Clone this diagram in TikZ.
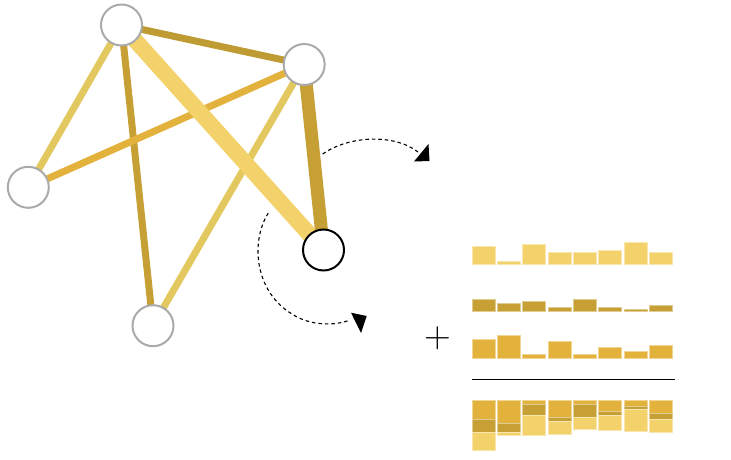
\documentclass[tikz,border=0pt]{standalone}
\usetikzlibrary{backgrounds}
\definecolor{lightY}{RGB}{243,210,108}
\definecolor{darkY}{RGB}{198,160,53}
\definecolor{orangeY}{RGB}{227,178,60}
\definecolor{mutedY}{RGB}{227,200,96}
\definecolor{oliveY}{RGB}{190,155,51}
\definecolor{vgray}{RGB}{170,170,170}
\begin{document}
\begin{tikzpicture}[x=1pt,y=-1pt,
  vert/.style={circle,fill=white,draw=vgray,line width=2pt,minimum size=41pt,inner sep=0pt},
  selvert/.style={vert,draw=black},
  edge/.style={line cap=butt},
  dasharc/.style={line width=1.1pt,dash pattern=on 3.5pt off 3pt},
  head/.style={fill=black,draw=none},
  bar/.style={line width=0.6pt}]
\useasboundingbox (0,0) rectangle (731,460);
% vertices
\node[vert] (A) at (121.5,25) {};
\node[vert] (B) at (304.2,64.5) {};
\node[vert] (C) at (28.3,187.3) {};
\node[vert] (D) at (153,325.7) {};
\node[selvert] (E) at (323.5,250) {};
% edges
\begin{scope}[on background layer]
\draw[edge,oliveY,line width=7pt] (A.center) -- (B.center);
\draw[edge,mutedY,line width=7pt] (A.center) -- (C.center);
\draw[edge,darkY,line width=7pt] (A.center) -- (D.center);
\draw[edge,orangeY,line width=7pt] (B.center) -- (C.center);
\draw[edge,mutedY,line width=7pt] (B.center) -- (D.center);
\draw[edge,lightY,line width=16pt] (A.center) -- (E.center);
\draw[edge,darkY,line width=13pt] (B.center) -- (E.center);
\end{scope}
% rotation arrows
\coordinate (u0) at (322.7,154);
\coordinate (u1) at (418,152);
\draw[dasharc] (u0) .. controls (350,135) and (395,134) .. (u1);
\fill[head] (428.5,144) -- (414,161.5) -- (429.5,161) -- cycle;
\coordinate (l0) at (268.3,213);
\coordinate (lm) at (292,314);
\coordinate (l1) at (350,320);
\draw[dasharc] (l0) .. controls (250,242) and (255,292) .. (lm) .. controls (310,326) and (335,326) .. (l1);
\fill[head] (351,312.7) -- (366.7,316) -- (361,333) -- cycle;
% plus
\node[inner sep=0pt,font=\fontsize{37}{37}\selectfont] (plus) at (437.5,338) {+};
% bar rows
\def\lightH{{18.7,3.7,20.7,12.4,12.4,14.4,22.7,12.4}}
\def\darkH{{12.7,8.7,10.7,4.4,12.7,4.4,2.4,6.4}}
\def\orangeH{{19,23,4,17,4,10.7,6.3,12.7}}
\foreach \i in {0,...,7}{
  \pgfmathsetmacro{\xl}{472+25.3*\i}
  \pgfmathsetmacro{\xr}{\xl+23}
  \pgfmathsetmacro{\hl}{\lightH[\i]}
  \pgfmathsetmacro{\hd}{\darkH[\i]}
  \pgfmathsetmacro{\ho}{\orangeH[\i]}
  \filldraw[bar,fill=lightY,draw=lightY!55!white] (\xl,264.7) rectangle (\xr,264.7-\hl);
  \filldraw[bar,fill=darkY,draw=darkY!55!white] (\xl,311.7) rectangle (\xr,311.7-\hd);
  \filldraw[bar,fill=orangeY,draw=orangeY!55!white] (\xl,358) rectangle (\xr,358-\ho);
  % stacked
  \filldraw[bar,fill=orangeY,draw=orangeY!55!white] (\xl,400.3) rectangle (\xr,400.3+\ho);
  \filldraw[bar,fill=darkY,draw=darkY!55!white] (\xl,400.3+\ho) rectangle (\xr,400.3+\ho+\hd);
  \filldraw[bar,fill=lightY,draw=lightY!55!white] (\xl,400.3+\ho+\hd) rectangle (\xr,400.3+\ho+\hd+\hl);
}
\coordinate (s0) at (472,379.3);
\coordinate (s1) at (675,379.3);
\draw[line width=1.6pt] (s0) -- (s1);
\end{tikzpicture}
\end{document}
